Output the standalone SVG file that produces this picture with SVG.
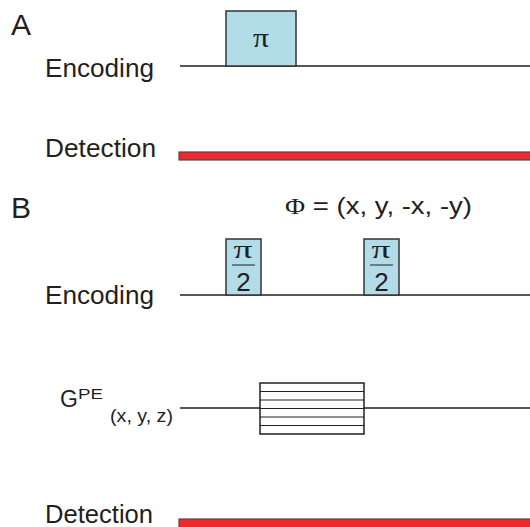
<svg xmlns="http://www.w3.org/2000/svg" width="530" height="527" viewBox="0 0 530 527">
<style>
.t{font-family:"Liberation Sans",Arial,sans-serif;fill:#231f20}
.s{font-family:"Liberation Serif","Times New Roman",serif;fill:#231f20}
.ln{stroke:#231f20;stroke-width:1.5;fill:none}
.pulse{fill:#b3dce9;stroke:#333;stroke-width:1.5}
.det{fill:#ec2a2f;stroke:#4a4a4a;stroke-width:1.2}
.grad{fill:#fff;stroke:#231f20;stroke-width:1.5}
.gl{stroke:#231f20;stroke-width:1}
</style>
<g id="labelA"><text class="t" x="11" y="35" font-size="30">A</text></g>
<g id="labelB"><text class="t" x="11" y="218" font-size="30">B</text></g>
<g id="connectors">
<line class="ln" x1="180" y1="66" x2="530" y2="66"/>
<line class="ln" x1="180" y1="295" x2="530" y2="295"/>
<line class="ln" x1="180" y1="408" x2="530" y2="408"/>
</g>
<g id="encA-label"><text class="t" x="45" y="77" font-size="25" textLength="109" lengthAdjust="spacingAndGlyphs">Encoding</text></g>
<g id="piPulse">
<rect class="pulse" x="226" y="11" width="70" height="55"/>
<text class="s" x="253" y="47" font-size="28" textLength="16" lengthAdjust="spacingAndGlyphs">π</text>
</g>
<g id="detA-label"><text class="t" x="45" y="157" font-size="25.5" textLength="111" lengthAdjust="spacingAndGlyphs">Detection</text></g>
<g id="detA"><rect class="det" x="179" y="152" width="353" height="8"/></g>
<g id="phase"><text class="t" x="285" y="214" font-size="24" textLength="187" lengthAdjust="spacingAndGlyphs"><tspan class="s">Φ</tspan> = (x, y, -x, -y)</text></g>
<g id="encB-label"><text class="t" x="45" y="304" font-size="25" textLength="109" lengthAdjust="spacingAndGlyphs">Encoding</text></g>
<g id="pi2a">
<rect class="pulse" x="226" y="239" width="35" height="56"/>
<text class="s" x="233.5" y="258" font-size="26" textLength="19" lengthAdjust="spacingAndGlyphs">π</text>
<line class="gl" x1="232" y1="265" x2="255" y2="265"/>
<text class="t" x="243.5" y="291" font-size="26" text-anchor="middle">2</text>
</g>
<g id="pi2b">
<rect class="pulse" x="364" y="239" width="35" height="56"/>
<text class="s" x="371.5" y="258" font-size="26" textLength="19" lengthAdjust="spacingAndGlyphs">π</text>
<line class="gl" x1="370" y1="265" x2="393" y2="265"/>
<text class="t" x="381.5" y="291" font-size="26" text-anchor="middle">2</text>
</g>
<g id="gpe-label">
<text class="t" x="60" y="407" font-size="23">G</text>
<text class="t" x="78" y="399" font-size="15" textLength="25" lengthAdjust="spacingAndGlyphs">PE</text>
<text class="t" x="110" y="422" font-size="18" textLength="63" lengthAdjust="spacingAndGlyphs">(x, y, z)</text>
</g>
<g id="gradient">
<rect class="grad" x="260" y="383" width="104" height="51"/>
<line class="gl" x1="260" y1="391.5" x2="364" y2="391.5"/>
<line class="gl" x1="260" y1="400" x2="364" y2="400"/>
<line class="gl" x1="260" y1="408.5" x2="364" y2="408.5"/>
<line class="gl" x1="260" y1="417" x2="364" y2="417"/>
<line class="gl" x1="260" y1="425.5" x2="364" y2="425.5"/>
</g>
<g id="detB-label"><text class="t" x="45" y="523" font-size="25.5" textLength="108" lengthAdjust="spacingAndGlyphs">Detection</text></g>
<g id="detB"><rect class="det" x="179" y="519" width="353" height="10"/></g>
</svg>
